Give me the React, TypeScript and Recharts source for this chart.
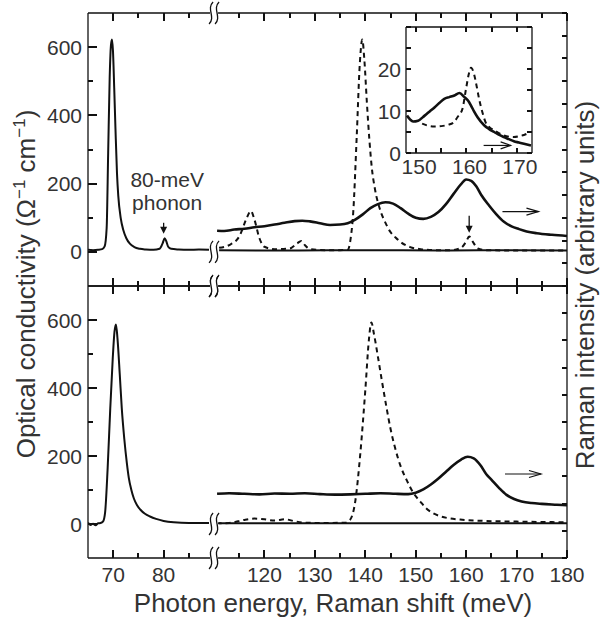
import React from "react";
import { LineChart, Line, XAxis, YAxis, ReferenceDot } from "recharts";

const FONT = '"Liberation Sans", Arial, Helvetica, sans-serif';
const INK = "#111";
const TEXT = "#333";

// the energy axis is cut between 90 and 110 meV
const BREAK_LO = 90;
const BREAK_HI = 110;
const toAxis = (e: number) => (e >= BREAK_HI ? e - (BREAK_HI - BREAK_LO) : e);
const fromAxis = (t: number) => (t > BREAK_LO ? t + (BREAK_HI - BREAK_LO) : t);

const xMajor = [70, 80, 120, 130, 140, 150, 160, 170, 180];
const xMinor = [75, 85, 115, 125, 135, 145, 155, 165, 175];
const sigmaMajor = [0, 200, 400, 600];
const sigmaMinor = [100, 300, 500];
const ramanTicksTop = [0, 1, 2, 3, 4, 5, 6, 7, 8, 9, 10, 11, 12];
const ramanTicksBottom = [0, 1, 2, 3, 4, 5, 6, 7, 8, 9, 10];
const insetXTicks = [150, 155, 160, 165, 170];
const insetXLabels = [150, 160, 170];
const insetYTicks = [0, 5, 10, 15, 20, 25, 30];
const insetYLabels = [0, 10, 20];

type Pt = [number, number];

// upper panel: optical conductivity (Ω⁻¹cm⁻¹) vs photon energy (meV)
const sigmaTopLow: Pt[] = [
  [65, 6], [66, 5], [67, 6], [67.8, 8], [68.3, 16], [68.7, 70], [69.0, 290], [69.3, 510],
  [69.55, 605], [69.75, 622], [69.95, 590], [70.2, 480], [70.45, 360], [70.75, 230],
  [71.0, 165], [71.5, 98], [72.0, 64], [72.6, 40], [73.3, 24], [74.2, 14], [75.3, 9],
  [76.5, 7], [78, 6], [79.2, 9], [79.8, 25], [80.2, 40], [80.5, 32], [80.9, 15], [81.5, 9],
  [83, 7], [85, 6], [87, 7], [89, 6],
];
const sigmaTopHigh: Pt[] = [[111, 5], [125, 4], [140, 5], [155, 4], [170, 5], [180, 4]];
const dashTop: Pt[] = [
  [111, 12], [113, 20], [115, 45], [116.5, 100], [117.3, 120], [118, 95], [119, 40], [120, 15],
  [122, 8], [125, 10], [126.5, 25], [127.3, 32], [128, 20], [129, 8], [132, 5], [135, 5],
  [136.5, 6], [137.1, 40], [137.6, 115], [138.3, 340], [138.9, 550], [139.4, 622], [139.8, 565],
  [140.3, 440], [140.8, 330], [141.3, 245], [141.9, 185], [142.9, 125], [144, 85], [144.9, 60],
  [146, 42], [146.9, 30], [148.9, 14], [151, 8], [154, 5], [157, 5], [159, 12], [160, 30],
  [160.6, 45], [161.3, 30], [162.3, 10], [164, 5], [170, 4], [180, 4],
];
// Raman intensity, arbitrary units (right axis)
const ramanTop: Pt[] = [
  [110.6, 2.43], [112, 2.42], [114, 2.48], [116, 2.52], [118, 2.58], [120, 2.63], [122, 2.7],
  [124, 2.78], [126, 2.85], [127.5, 2.87], [129, 2.84], [131, 2.76], [133, 2.68], [135, 2.7],
  [136.5, 2.76], [138, 2.92], [139.5, 3.15], [141, 3.42], [142.5, 3.6], [144, 3.68], [145.5, 3.62],
  [147, 3.42], [148.5, 3.18], [150, 3.0], [151.5, 2.95], [153, 3.04], [154.5, 3.25], [156, 3.6],
  [157.5, 4.05], [159, 4.48], [160, 4.68], [161, 4.62], [162, 4.38], [163, 4.0], [164.5, 3.55],
  [166, 3.15], [167.5, 2.82], [169, 2.62], [170.5, 2.5], [172, 2.4], [174, 2.32], [177, 2.25],
  [180, 2.2],
];

// lower panel
const sigmaBottomLow: Pt[] = [
  [65, 4], [65.5, -3], [66, 1], [66.5, -4], [67, 2], [67.5, 3], [68, 8], [68.4, 35], [68.9, 165],
  [69.4, 335], [69.9, 485], [70.25, 565], [70.55, 587], [70.85, 545], [71.3, 440], [71.7, 340],
  [72.2, 250], [72.7, 180], [73.1, 135], [73.6, 100], [74.1, 75], [74.7, 56], [75.4, 42],
  [76.3, 30], [77.3, 22], [78.5, 15], [80, 9], [82, 5], [85, 3], [89, 3],
];
const sigmaBottomHigh: Pt[] = [[111, 2], [130, 2], [150, 2], [180, 2]];
const dashBottom: Pt[] = [
  [110.5, 2], [113, 3], [116, 12], [118, 16], [120, 14], [122, 10], [124, 14], [126, 8], [128, 4],
  [132, 3], [136, 4], [137, 13], [138, 66], [139, 206], [140, 394], [140.7, 540], [141.2, 593],
  [141.7, 560], [142.5, 492], [143.3, 420], [144.2, 343], [145, 280], [145.9, 224], [147, 170],
  [148.3, 126], [149.5, 92], [150.9, 66], [152, 47], [153.5, 31], [155, 22], [156.5, 17],
  [158.8, 13], [162, 10], [166, 8], [170, 7], [175, 6], [180, 5],
];
const ramanBottom: Pt[] = [
  [110.6, 2.36], [113, 2.38], [116, 2.36], [119, 2.34], [122, 2.37], [125, 2.36], [128, 2.38],
  [131, 2.35], [134, 2.33], [137, 2.34], [140, 2.36], [143, 2.38], [146, 2.36], [148.5, 2.35],
  [150, 2.4], [151.5, 2.52], [153, 2.7], [154.5, 2.92], [156, 3.17], [157.5, 3.42], [159, 3.62],
  [160.3, 3.72], [161.5, 3.66], [162.8, 3.42], [164, 3.08], [165, 2.88], [166.5, 2.58],
  [168, 2.32], [169.5, 2.17], [171, 2.08], [173, 2.02], [175, 1.99], [178, 1.96], [180, 1.94],
];

// inset (upper panel, 148–173 meV)
const insetSolid: Pt[] = [
  [148.2, 8.9], [148.8, 8.0], [149.4, 7.5], [150.4, 7.7], [151.7, 8.9], [152.7, 9.9], [153.7, 10.9],
  [154.6, 11.9], [155.6, 12.9], [156.6, 13.3], [157.6, 13.7], [158.6, 14.3], [159.6, 13.3],
  [160.3, 12.5], [160.9, 11.3], [161.5, 9.9], [162.2, 8.5], [163.5, 6.6], [164.5, 5.7],
  [165.5, 5.0], [166.5, 4.3], [167.4, 3.8], [168.4, 3.3], [169.4, 2.8], [170.4, 2.5],
  [171.4, 2.2], [172.8, 1.8],
];
const insetDash: Pt[] = [
  [151.2, 7.0], [152.4, 6.5], [153.6, 6.3], [155, 6.4], [156.3, 6.7], [157.5, 7.3], [158.2, 8.5],
  [159.2, 10.5], [159.9, 15.2], [160.5, 19], [160.9, 20.3], [161.5, 18.8], [162, 16],
  [162.5, 12.9], [163.2, 9.5], [163.8, 7.3], [164.5, 6.2], [165.5, 5.4], [167.4, 4.2],
  [169.4, 3.8], [170.5, 4.0], [171.4, 4.3], [172.7, 5.0],
];

// annotation anchors [meV, Ω⁻¹cm⁻¹]
const phononLabelAt: Pt = [80.7, 189];
const phononArrowAt: Pt = [80, 53];
const raman160ArrowAt: Pt = [160.6, 56];
const ramanArrowTop: Pt = [167.2, 118];
const ramanArrowBottom: Pt = [167.7, 147];
const insetArrowAt: Pt = [163.4, 1.8];

const pts = (a: Pt[]) => a.map(([e, v]) => ({ x: toAxis(e), y: v }));
const xTicks = [...xMajor, ...xMinor].map(toAxis);
const sigmaTicks = [...sigmaMajor, ...sigmaMinor];
const axisLine = { stroke: INK, strokeWidth: 1.3 };
const tickText = { fontSize: 21, fill: TEXT, fontFamily: FONT };

// inward tick mark: a 2px bar that starts on the frame and runs (dx, dy) into the plot
const tickBar = (x0: number, y0: number, dx: number, dy: number) => {
  const cx = Math.round(Number(x0));
  const cy = Math.round(Number(y0));
  const w = dx === 0 ? 2 : Math.abs(dx);
  const h = dy === 0 ? 2 : Math.abs(dy);
  const x = dx === 0 ? cx - 1 : dx > 0 ? cx : cx + dx;
  const y = dy === 0 ? cy - 1 : dy > 0 ? cy : cy + dy;
  return <rect x={x} y={y} width={w} height={h} fill={INK} />;
};

const TickMark = (dx: number, dy: number) => (p: any) => tickBar(p.cx, p.cy, dx, dy);

// axis ticks: the mark goes inward, the label (if any) outside
const xTick = (dir: number, labels: boolean) => (p: any) => {
  const e = fromAxis(Number(p.payload.value));
  const major = xMajor.includes(e);
  return (
    <g>
      {tickBar(p.x, p.y, 0, dir * (major ? 8 : 5))}
      {labels && major && (
        <text x={p.x} y={Number(p.y) + 9} dy="0.71em" textAnchor="middle" {...tickText}>
          {e}
        </text>
      )}
    </g>
  );
};

const sigmaTick = (p: any) => {
  const v = Number(p.payload.value);
  const major = sigmaMajor.includes(v);
  return (
    <g>
      {tickBar(p.x, p.y, major ? 9 : 5, 0)}
      {major && (
        <text x={Number(p.x) - 6} y={p.y} dy="0.36em" textAnchor="end" {...tickText}>
          {v}
        </text>
      )}
    </g>
  );
};

const sideTick = (dx: number) => (p: any) => tickBar(p.x, p.y, dx, 0);

const BreakMark = ({ cx, cy }: any) => (
  <g>
    <rect x={cx - 4} y={cy - 7} width={8} height={14} fill="#fff" />
    {[-3, 3].map((d) => (
      <path
        key={d}
        d={`M${cx + d + 2},${cy - 11} C${cx + d - 5},${cy - 4} ${cx + d + 5},${cy + 4} ${cx + d - 2},${cy + 11}`}
        fill="none"
        stroke={INK}
        strokeWidth={1.3}
      />
    ))}
  </g>
);

const RightArrow = (len: number, head: number) => ({ cx, cy }: any) => (
  <g fill="none" stroke={INK} strokeWidth={1.2}>
    <line x1={cx} x2={cx + len} y1={cy} y2={cy} />
    <polyline points={`${cx + len - head},${cy - 3.5} ${cx + len},${cy} ${cx + len - head},${cy + 3.5}`} />
  </g>
);

const DownArrow = (len: number) => ({ cx, cy }: any) => (
  <g>
    <line x1={cx} x2={cx} y1={cy - len} y2={cy - 6} stroke={INK} strokeWidth={1.3} />
    <polygon points={`${cx - 3.5},${cy - 7} ${cx + 3.5},${cy - 7} ${cx},${cy}`} fill={INK} />
  </g>
);

const PhononLabel = ({ cx, cy }: any) => (
  <text x={cx} y={cy} textAnchor="middle" fontSize={21} fill={TEXT} fontFamily={FONT}>
    <tspan x={cx}>80-meV</tspan>
    <tspan x={cx} dy={23}>
      phonon
    </tspan>
  </text>
);

interface PanelProps {
  top: number;
  height: number;
  marginTop: number;
  marginBottom: number;
  xLabels: boolean;
  sigmaLow: Pt[];
  sigmaHigh: Pt[];
  dashed: Pt[];
  raman: Pt[];
  ramanTicks: number[];
  ramanArrow: Pt;
  children?: React.ReactNode;
}

function Panel(props: PanelProps) {
  const { top, height, marginTop, marginBottom, xLabels, ramanTicks } = props;
  const ramanMax = ramanTicks[ramanTicks.length - 1];
  const ref = { xAxisId: "b", yAxisId: "s", ifOverflow: "visible" as const };
  return (
    <div style={{ position: "absolute", left: 0, top }}>
      <LineChart
        width={600}
        height={height}
        margin={{ top: marginTop, right: 33, bottom: marginBottom, left: 28 }}
        style={{ fontFamily: FONT }}
      >
        <XAxis
          xAxisId="b"
          dataKey="x"
          type="number"
          domain={[65, 160]}
          allowDataOverflow
          ticks={xTicks}
          interval={0}
          orientation="bottom"
          mirror={!xLabels}
          height={30}
          tickSize={0}
          tickMargin={0}
          tickLine={false}
          tick={xTick(-1, xLabels)}
          axisLine={axisLine}
        />
        <XAxis
          xAxisId="t"
          dataKey="x"
          type="number"
          domain={[65, 160]}
          allowDataOverflow
          ticks={xTicks}
          interval={0}
          orientation="top"
          mirror
          tickSize={0}
          tickMargin={0}
          tickLine={false}
          tick={xTick(1, false)}
          axisLine={axisLine}
        />
        <YAxis
          yAxisId="s"
          type="number"
          domain={[-100, 700]}
          allowDataOverflow
          ticks={sigmaTicks}
          interval={0}
          width={60}
          tickSize={0}
          tickMargin={0}
          tickLine={false}
          tick={sigmaTick}
          axisLine={axisLine}
        />
        <YAxis
          yAxisId="r"
          orientation="right"
          mirror
          type="number"
          domain={[0, ramanMax]}
          allowDataOverflow
          ticks={ramanTicks}
          interval={0}
          tickSize={0}
          tickMargin={0}
          tickLine={false}
          tick={sideTick(-5)}
          axisLine={axisLine}
        />
        <Line xAxisId="b" yAxisId="s" data={pts(props.sigmaLow)} dataKey="y" type="monotone" stroke={INK} strokeWidth={2} dot={false} activeDot={false} isAnimationActive={false} />
        <Line xAxisId="b" yAxisId="s" data={pts(props.sigmaHigh)} dataKey="y" type="monotone" stroke={INK} strokeWidth={2} dot={false} activeDot={false} isAnimationActive={false} />
        <Line xAxisId="b" yAxisId="s" data={pts(props.dashed)} dataKey="y" type="monotone" stroke={INK} strokeWidth={2} strokeDasharray="5 4" dot={false} activeDot={false} isAnimationActive={false} />
        <Line xAxisId="b" yAxisId="r" data={pts(props.raman)} dataKey="y" type="monotone" stroke={INK} strokeWidth={2.6} dot={false} activeDot={false} isAnimationActive={false} />
        {xTicks.map((t) => {
          const len = xMajor.includes(fromAxis(t)) ? 8 : 5;
          return [
            <ReferenceDot key={`xb${t}`} {...ref} x={t} y={-100} shape={TickMark(0, -len)} />,
            <ReferenceDot key={`xt${t}`} {...ref} x={t} y={700} shape={TickMark(0, len)} />,
          ];
        })}
        {sigmaTicks.map((v) => (
          <ReferenceDot key={`s${v}`} {...ref} x={65} y={v} shape={TickMark(sigmaMajor.includes(v) ? 9 : 5, 0)} />
        ))}
        {ramanTicks.map((v) => (
          <ReferenceDot key={`r${v}`} {...ref} yAxisId="r" x={160} y={v} shape={TickMark(-5, 0)} />
        ))}
        <ReferenceDot {...ref} x={toAxis(props.ramanArrow[0])} y={props.ramanArrow[1]} shape={RightArrow(36, 12)} />
        {[700, 0, -100].map((v) => (
          <ReferenceDot key={`brk${v}`} {...ref} x={BREAK_LO} y={v} shape={BreakMark} />
        ))}
        {props.children}
      </LineChart>
    </div>
  );
}

function Inset() {
  const ref = { xAxisId: "b", yAxisId: "l", ifOverflow: "visible" as const };
  return (
    <div style={{ position: "absolute", left: 370, top: 15 }}>
      <LineChart width={170} height={170} margin={{ top: 12, right: 8, bottom: 0, left: 6 }} style={{ fontFamily: FONT }}>
        <XAxis
          xAxisId="b"
          dataKey="x"
          type="number"
          domain={[148, 173]}
          allowDataOverflow
          ticks={insetXTicks}
          interval={0}
          height={32}
          tickSize={0}
          tickMargin={0}
          tickLine={false}
          axisLine={axisLine}
          tick={(p: any) => (
            <g>
              {tickBar(p.x, p.y, 0, -5)}
              {insetXLabels.includes(Number(p.payload.value)) && (
                <text x={Number(p.x) + 3} y={Number(p.y) + 6} dy="0.71em" textAnchor="middle" {...tickText}>
                  {p.payload.value}
                </text>
              )}
            </g>
          )}
        />
        <XAxis xAxisId="t" dataKey="x" type="number" domain={[148, 173]} allowDataOverflow ticks={insetXTicks} interval={0} orientation="top" mirror tickSize={0} tickMargin={0} tickLine={false} tick={(p: any) => tickBar(p.x, p.y, 0, 5)} axisLine={axisLine} />
        <YAxis
          yAxisId="l"
          type="number"
          domain={[0, 30]}
          allowDataOverflow
          ticks={insetYTicks}
          interval={0}
          width={30}
          tickSize={0}
          tickMargin={0}
          tickLine={false}
          axisLine={axisLine}
          tick={(p: any) => (
            <g>
              {tickBar(p.x, p.y, 5, 0)}
              {insetYLabels.includes(Number(p.payload.value)) && (
                <text x={Number(p.x) - 5} y={p.y} dy="0.36em" textAnchor="end" {...tickText}>
                  {p.payload.value}
                </text>
              )}
            </g>
          )}
        />
        <YAxis yAxisId="r" orientation="right" mirror type="number" domain={[0, 30]} allowDataOverflow ticks={insetYTicks} interval={0} tickSize={0} tickMargin={0} tickLine={false} tick={sideTick(-5)} axisLine={axisLine} />
        <Line xAxisId="b" yAxisId="l" data={insetDash.map(([x, y]) => ({ x, y }))} dataKey="y" type="monotone" stroke={INK} strokeWidth={2} strokeDasharray="5 4" dot={false} activeDot={false} isAnimationActive={false} />
        <Line xAxisId="b" yAxisId="l" data={insetSolid.map(([x, y]) => ({ x, y }))} dataKey="y" type="monotone" stroke={INK} strokeWidth={2.6} dot={false} activeDot={false} isAnimationActive={false} />
        {insetXTicks.map((t) => [
          <ReferenceDot key={`ib${t}`} {...ref} x={t} y={0} shape={TickMark(0, -5)} />,
          <ReferenceDot key={`it${t}`} {...ref} x={t} y={30} shape={TickMark(0, 5)} />,
        ])}
        {insetYTicks.map((v) => [
          <ReferenceDot key={`il${v}`} {...ref} x={148} y={v} shape={TickMark(5, 0)} />,
          <ReferenceDot key={`ir${v}`} {...ref} x={173} y={v} shape={TickMark(-5, 0)} />,
        ])}
        <ReferenceDot {...ref} x={insetArrowAt[0]} y={insetArrowAt[1]} shape={RightArrow(27, 10)} />
      </LineChart>
    </div>
  );
}

export default function App() {
  const ref = { xAxisId: "b", yAxisId: "s", ifOverflow: "visible" as const };
  return (
    <div style={{ position: "absolute", left: 0, top: 0, width: 600, height: 625, background: "#fff", fontFamily: FONT }}>
      <Panel
        top={0}
        height={300}
        marginTop={13}
        marginBottom={14}
        xLabels={false}
        sigmaLow={sigmaTopLow}
        sigmaHigh={sigmaTopHigh}
        dashed={dashTop}
        raman={ramanTop}
        ramanTicks={ramanTicksTop}
        ramanArrow={ramanArrowTop}
      >
        <ReferenceDot {...ref} x={phononLabelAt[0]} y={phononLabelAt[1]} shape={PhononLabel} />
        <ReferenceDot {...ref} x={phononArrowAt[0]} y={phononArrowAt[1]} shape={DownArrow(11)} />
        <ReferenceDot {...ref} x={toAxis(raman160ArrowAt[0])} y={raman160ArrowAt[1]} shape={DownArrow(17)} />
      </Panel>
      <Panel
        top={276}
        height={349}
        marginTop={10}
        marginBottom={37}
        xLabels
        sigmaLow={sigmaBottomLow}
        sigmaHigh={sigmaBottomHigh}
        dashed={dashBottom}
        raman={ramanBottom}
        ramanTicks={ramanTicksBottom}
        ramanArrow={ramanArrowBottom}
      />
      <Inset />
      <svg width={600} height={625} style={{ position: "absolute", left: 0, top: 0, pointerEvents: "none" }}>
        <text transform="translate(35,284) rotate(-90)" textAnchor="middle" fontSize={26} fill={TEXT} fontFamily={FONT}>
          Optical conductivity (Ω
          <tspan dy={-10} fontSize={17}>−1</tspan>
          <tspan dy={10}> cm</tspan>
          <tspan dy={-10} fontSize={17}>−1</tspan>
          <tspan dy={10}>)</tspan>
        </text>
        <text transform="translate(594,285) rotate(-90)" textAnchor="middle" fontSize={26} fill={TEXT} fontFamily={FONT}>
          Raman intensity (arbitrary units)
        </text>
        <text x={333} y={612} textAnchor="middle" fontSize={26} fill={TEXT} fontFamily={FONT}>
          Photon energy, Raman shift (meV)
        </text>
      </svg>
    </div>
  );
}
